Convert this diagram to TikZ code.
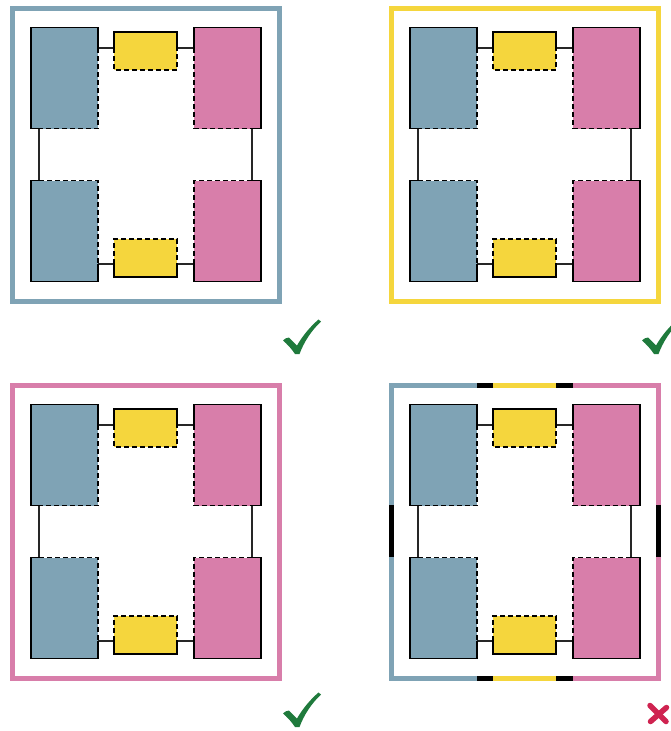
\documentclass[tikz,border=0pt]{standalone}
\usetikzlibrary{calc}

\definecolor{cblue}{HTML}{7FA3B5}
\definecolor{cyellow}{HTML}{F5D63D}
\definecolor{cpink}{HTML}{D87EAA}
\definecolor{cgreen}{HTML}{1F7A3C}
\definecolor{cred}{HTML}{CF2350}

\tikzset{
  blk/.style={rectangle, inner sep=0pt, outer sep=0pt},
  tall/.style={blk, minimum width=67pt, minimum height=101pt},
  short/.style={blk, minimum width=63pt, minimum height=38pt},
  solidedge/.style={line width=1.5pt, black, line join=miter},
  dashedge/.style={line width=1.6pt, black, dash pattern=on 5pt off 3pt},
  conn/.style={line width=1.3pt, black!85},
  frame/.style={line width=5pt, line join=miter},
}

% One block layout: blue, yellow and pink blocks joined in a ring.
% Outer outline solid, inner outline dashed.
\newcommand\blockring[1]{%
  \node[tall, fill=cblue]   (#1B1) at (64.5,78)   {};
  \node[short, fill=cyellow](#1Y1) at (145.5,51)  {};
  \node[tall, fill=cpink]   (#1P1) at (227.5,78)  {};
  \node[tall, fill=cblue]   (#1B2) at (64.5,231)  {};
  \node[short, fill=cyellow](#1Y2) at (145.5,258) {};
  \node[tall, fill=cpink]   (#1P2) at (227.5,231) {};
  \coordinate (#1a) at (0,48);
  \coordinate (#1b) at (0,264);
  \coordinate (#1l) at (39,0);
  \coordinate (#1r) at (252,0);
  % connectors
  \draw[conn] (#1B1.east |- #1a) -- (#1Y1.west |- #1a);
  \draw[conn] (#1Y1.east |- #1a) -- (#1P1.west |- #1a);
  \draw[conn] (#1B1.south -| #1l) -- (#1B2.north -| #1l);
  \draw[conn] (#1P1.south -| #1r) -- (#1P2.north -| #1r);
  \draw[conn] (#1B2.east |- #1b) -- (#1Y2.west |- #1b);
  \draw[conn] (#1Y2.east |- #1b) -- (#1P2.west |- #1b);
  % upper blue
  \draw[solidedge] (#1B1.south -| #1l) -- (#1B1.south west) -- (#1B1.north west) -- (#1B1.north east) -- (#1B1.east |- #1a);
  \draw[dashedge] (#1B1.east |- #1a) -- (#1B1.south east) -- (#1B1.south -| #1l);
  % upper yellow
  \draw[solidedge] (#1Y1.west |- #1a) -- (#1Y1.north west) -- (#1Y1.north east) -- (#1Y1.east |- #1a);
  \draw[dashedge] (#1Y1.west |- #1a) -- (#1Y1.south west) -- (#1Y1.south east) -- (#1Y1.east |- #1a);
  % upper pink
  \draw[solidedge] (#1P1.west |- #1a) -- (#1P1.north west) -- (#1P1.north east) -- (#1P1.south east) -- (#1P1.south -| #1r);
  \draw[dashedge] (#1P1.west |- #1a) -- (#1P1.south west) -- (#1P1.south -| #1r);
  % lower blue
  \draw[solidedge] (#1B2.north -| #1l) -- (#1B2.north west) -- (#1B2.south west) -- (#1B2.south east) -- (#1B2.east |- #1b);
  \draw[dashedge] (#1B2.north -| #1l) -- (#1B2.north east) -- (#1B2.east |- #1b);
  % lower yellow
  \draw[solidedge] (#1Y2.west |- #1b) -- (#1Y2.south west) -- (#1Y2.south east) -- (#1Y2.east |- #1b);
  \draw[dashedge] (#1Y2.west |- #1b) -- (#1Y2.north west) -- (#1Y2.north east) -- (#1Y2.east |- #1b);
  % lower pink
  \draw[solidedge] (#1P2.west |- #1b) -- (#1P2.south west) -- (#1P2.south east) -- (#1P2.north east) -- (#1P2.north -| #1r);
  \draw[dashedge] (#1P2.north -| #1r) -- (#1P2.north west) -- (#1P2.west |- #1b);
}

% check mark with its top-left corner at the current origin
\newcommand\tick{%
  \fill[cgreen] (0,20.5) .. controls (3,18) .. (6,17.5) -- (14,25.5)
    .. controls (20,15) and (28,6) .. (35.5,-0.5) -- (38,1.5)
    .. controls (28,11) and (21,22) .. (16.5,34) -- (12,34)
    .. controls (8,28) and (4,24) .. (0,20.5) -- cycle;
}

\begin{document}
\begin{tikzpicture}[x=1pt, y=-1pt]
\useasboundingbox[fill=white] (0,0) rectangle (671,731);

% top left
\begin{scope}
  \draw[frame, cblue] (12.5,8.5) rectangle (279.5,301.5);
  \blockring{A}
\end{scope}

% top right
\begin{scope}[shift={(379,0)}]
  \draw[frame, cyellow] (12.5,8.5) rectangle (279.5,301.5);
  \blockring{B}
\end{scope}

% bottom left
\begin{scope}[shift={(0,377)}]
  \draw[frame, cpink] (12.5,8.5) rectangle (279.5,301.5);
  \blockring{C}
\end{scope}

% bottom right: frame made of coloured pieces
\begin{scope}[shift={(379,377)}]
  \draw[frame, cblue] (98,8.5) -- (12.5,8.5) -- (12.5,128);
  \draw[frame, black] (12.5,128) -- (12.5,180);
  \draw[frame, cblue] (12.5,180) -- (12.5,301.5) -- (98,301.5);
  \draw[frame, black] (98,301.5) -- (114,301.5);
  \draw[frame, cyellow] (114,301.5) -- (177,301.5);
  \draw[frame, black] (177,301.5) -- (194,301.5);
  \draw[frame, cpink] (194,301.5) -- (279.5,301.5) -- (279.5,180);
  \draw[frame, black] (279.5,180) -- (279.5,128);
  \draw[frame, cpink] (279.5,128) -- (279.5,8.5) -- (194,8.5);
  \draw[frame, black] (194,8.5) -- (177,8.5);
  \draw[frame, cyellow] (177,8.5) -- (114,8.5);
  \draw[frame, black] (114,8.5) -- (98,8.5);
  \blockring{D}
\end{scope}

% verdicts
\begin{scope}[shift={(283,320)}] \tick \end{scope}
\begin{scope}[shift={(642,320)}] \tick \end{scope}
\begin{scope}[shift={(283,693)}] \tick \end{scope}
\draw[cred, line width=5.5pt, line cap=round] (650,705.5) -- (666,721.5);
\draw[cred, line width=5.5pt, line cap=round] (666.5,707.5) -- (650.5,721.5);

\end{tikzpicture}
\end{document}
